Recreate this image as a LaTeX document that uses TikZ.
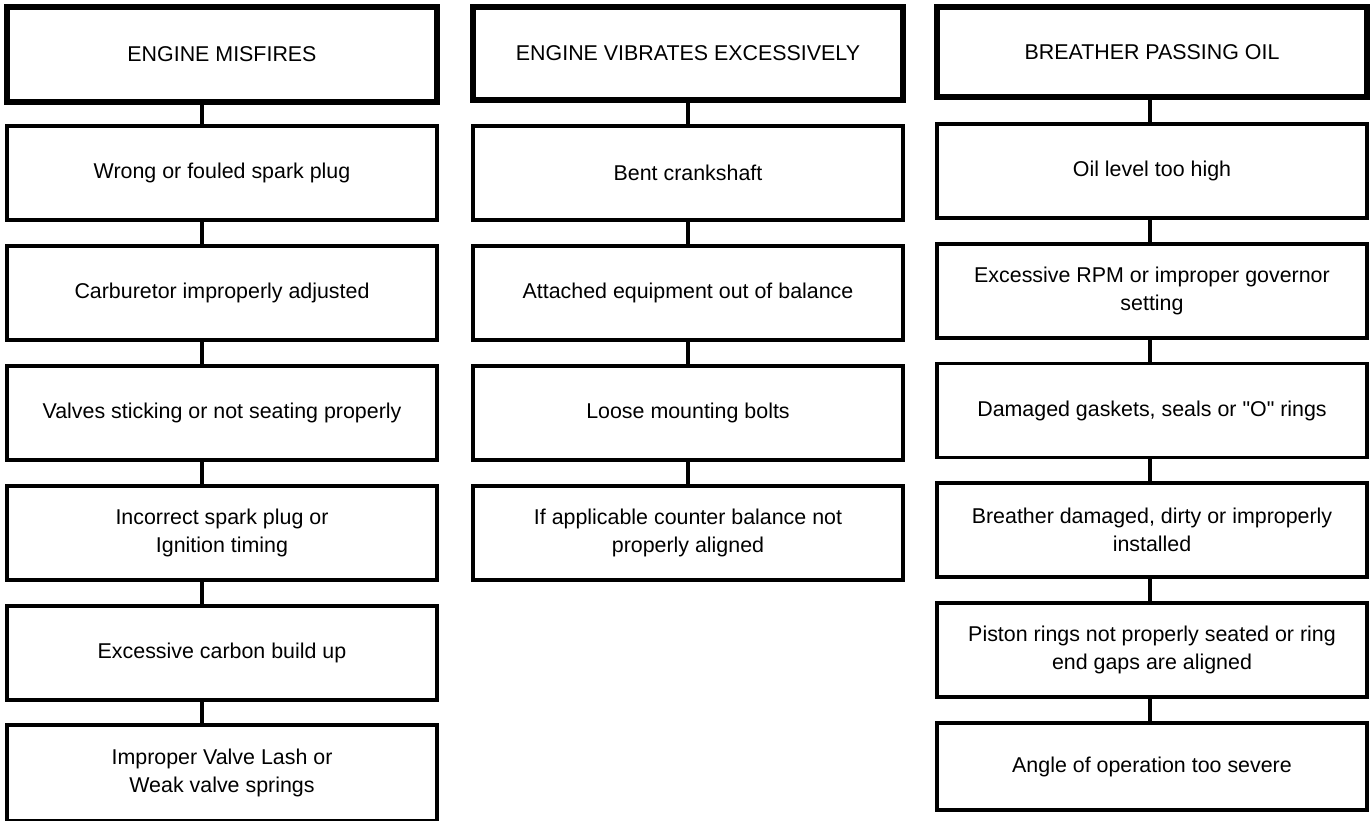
\documentclass[tikz,border=0pt]{standalone}
\usepackage{fontspec}
\setmainfont{Liberation Sans}[Ligatures=TeXOff]

\begin{document}
\begin{tikzpicture}[
  x=0.5pt, y=-0.5pt,
  font=\fontsize{10.7}{14}\selectfont,
  hdr/.style={draw, line width=2.8pt, minimum width=215pt, align=center, inner sep=0pt},
  cause/.style={draw, line width=1.7pt, minimum width=215pt, minimum height=47pt, align=center, inner sep=0pt},
  link/.style={line width=1.8pt},
]
\useasboundingbox (0,0) rectangle (1370,820);

% === ENGINE MISFIRES (left) ===
\node[hdr, minimum height=47.5pt] (mis0) at (222,54.5) {ENGINE MISFIRES};
\node[cause] (mis1) at (222,173) {Wrong or fouled spark plug};
\node[cause] (mis2) at (222,293) {Carburetor improperly adjusted};
\node[cause] (mis3) at (222,413) {Valves sticking or not seating properly};
\node[cause] (mis4) at (222,533) {Incorrect spark plug or\\Ignition timing};
\node[cause] (mis5) at (222,653) {Excessive carbon build up};
\node[cause, minimum height=48pt] (mis6) at (222,773) {Improper Valve Lash or\\Weak valve springs};

\draw[link] ([xshift=-10pt]mis0.south) -- ([xshift=-10pt]mis1.north);
\draw[link] ([xshift=-10pt]mis1.south) -- ([xshift=-10pt]mis2.north);
\draw[link] ([xshift=-10pt]mis2.south) -- ([xshift=-10pt]mis3.north);
\draw[link] ([xshift=-10pt]mis3.south) -- ([xshift=-10pt]mis4.north);
\draw[link] ([xshift=-10pt]mis4.south) -- ([xshift=-10pt]mis5.north);
\draw[link] ([xshift=-10pt]mis5.south) -- ([xshift=-10pt]mis6.north);

% === ENGINE VIBRATES EXCESSIVELY (middle) ===
\node[hdr, minimum height=46.5pt] (vib0) at (688,53.5) {ENGINE VIBRATES EXCESSIVELY};
\node[cause] (vib1) at (688,173) {Bent crankshaft};
\node[cause] (vib2) at (688,293) {Attached equipment out of balance};
\node[cause] (vib3) at (688,413) {Loose mounting bolts};
\node[cause] (vib4) at (688,533) {If applicable counter balance not\\properly aligned};

\draw[link] (vib0) -- (vib1);
\draw[link] (vib1) -- (vib2);
\draw[link] (vib2) -- (vib3);
\draw[link] (vib3) -- (vib4);

% === BREATHER PASSING OIL (right) ===
\node[hdr, minimum height=45pt] (oil0) at (1152,52) {BREATHER PASSING OIL};
\node[cause] (oil1) at (1152,171) {Oil level too high};
\node[cause] (oil2) at (1152,291) {Excessive RPM or improper governor\\setting};
\node[cause] (oil3) at (1152,410.5) {Damaged gaskets, seals or "O" rings};
\node[cause] (oil4) at (1152,530) {Breather damaged, dirty or improperly\\installed};
\node[cause] (oil5) at (1152,650) {Piston rings not properly seated or ring\\end gaps are aligned};
\node[cause, minimum height=43.5pt] (oil6) at (1152,766.5) {Angle of operation too severe};

\draw[link] ([xshift=-1pt]oil0.south) -- ([xshift=-1pt]oil1.north);
\draw[link] ([xshift=-1pt]oil1.south) -- ([xshift=-1pt]oil2.north);
\draw[link] ([xshift=-1pt]oil2.south) -- ([xshift=-1pt]oil3.north);
\draw[link] ([xshift=-1pt]oil3.south) -- ([xshift=-1pt]oil4.north);
\draw[link] ([xshift=-1pt]oil4.south) -- ([xshift=-1pt]oil5.north);
\draw[link] ([xshift=-1pt]oil5.south) -- ([xshift=-1pt]oil6.north);
\end{tikzpicture}
\end{document}
